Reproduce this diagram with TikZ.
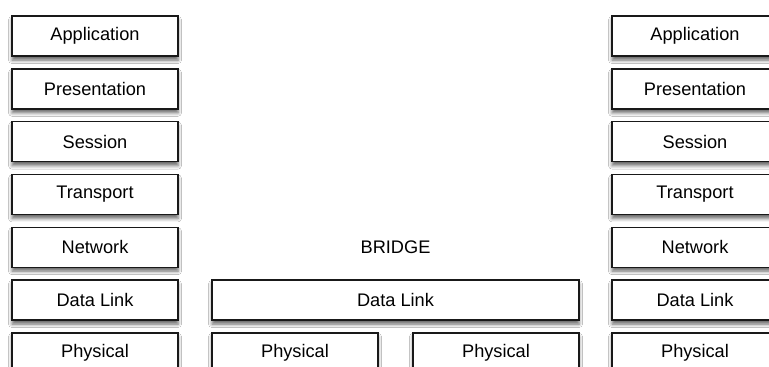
\documentclass[tikz,border=0pt]{standalone}
\usepackage{fontspec}
\setmainfont{Liberation Sans}
\usetikzlibrary{shadows.blur}
\begin{document}
\begin{tikzpicture}[x=1pt,y=-1pt,
  layer/.style={draw=black!90, line width=1.4pt, fill=white, minimum height=40pt,
    inner sep=0pt, font=\fontsize{18.2}{20}\selectfont, text=black,
    blur shadow={shadow xshift=0pt, shadow yshift=-4pt, shadow blur radius=3.5pt, shadow opacity=60}},
  col/.style={layer, minimum width=166pt},
  wide/.style={layer, minimum width=367pt}]
\clip (0,0) rectangle (769,367);
\fill[white] (0,0) rectangle (769,367);
% left stack
\node[col] (la) at (95,36) {Application};
\node[col] (lp) at (95,88.8) {Presentation};
\node[col] (ls) at (95,141.6) {Session};
\node[col] (lt) at (95,194.4) {Transport};
\node[col] (ln) at (95,247.2) {Network};
\node[col] (ld) at (95,300) {Data Link};
\node[col] (lph) at (95,352.8) {Physical};
% right stack
\node[col] (ra) at (695,36) {Application};
\node[col] (rp) at (695,88.8) {Presentation};
\node[col] (rs) at (695,141.6) {Session};
\node[col] (rt) at (695,194.4) {Transport};
\node[col] (rn) at (695,247.2) {Network};
\node[col] (rd) at (695,300) {Data Link};
\node[col] (rph) at (695,352.8) {Physical};
% bridge
\node[font=\fontsize{18.2}{20}\selectfont, text=black] (br) at (395.5,247.2) {BRIDGE};
\node[wide] (bd) at (395.5,300) {Data Link};
\node[col] (bp1) at (295,352.8) {Physical};
\node[col] (bp2) at (496,352.8) {Physical};
\end{tikzpicture}
\end{document}
